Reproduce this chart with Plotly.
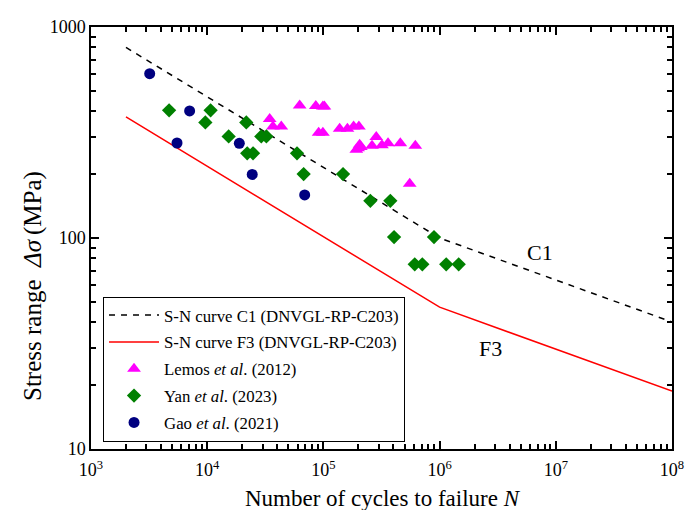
import plotly.graph_objects as go
import numpy as np

# S-N design curves: N and stress range
curve_N = [2000, 1e6, 1e8]
c1_S = [800, 100, 40]
f3_S = [375, 47, 18.8]

# Lemos et al. (2012)
lemos_N = [34500, 36800, 43400, 62500, 86000, 99000, 102000, 91000, 99000,
           138000, 161000, 182000, 202000, 205000, 199000, 192000, 210000,
           285000, 262000, 319000, 360000, 459000, 618000, 553000]
lemos_S = [366, 338, 338, 425, 422, 420, 420, 315, 315,
           329, 329, 338, 338, 277, 266, 262, 270,
           301, 274, 275, 281, 281, 274, 181]

# Yan et al. (2023)
yan_N = [4700, 10700, 9640, 21700, 15300, 29200, 32300, 22100, 24800, 59300,
         67600, 147600, 253600, 376700, 405700, 895000, 611000, 710000, 1140000, 1460000]
yan_S = [403, 403, 353, 353, 303, 303, 303, 252, 252, 252,
         201, 201, 150, 150, 101, 101, 75, 75, 75, 75]

# Gao et al. (2021)
gao_N = [3200, 7060, 5500, 18900, 24400, 69000]
gao_S = [601, 400, 282, 281, 200, 160]

x_tickvals = [1e3, 1e4, 1e5, 1e6, 1e7, 1e8]
x_ticktext = ["10<sup>3</sup>", "10<sup>4</sup>", "10<sup>5</sup>", "10<sup>6</sup>",
              "10<sup>7</sup>", "10<sup>8</sup>"]
y_tickvals = [10, 100, 1000]
y_ticktext = ["10", "100", "1000"]
x_minor = [m * 10 ** e for e in range(3, 8) for m in range(2, 10)]
y_minor = [m * 10 ** e for e in range(1, 3) for m in range(2, 10)]

FONT = "Liberation Serif, Times New Roman, serif"

fig = go.Figure()
fig.add_trace(go.Scatter(x=curve_N, y=c1_S, mode="lines", legendgroup="a",
                         line=dict(color="black", width=1.5, dash="6px,6px"),
                         name="S-N curve C1 (DNVGL-RP-C203)"))
fig.add_trace(go.Scatter(x=curve_N, y=f3_S, mode="lines", legendgroup="b",
                         line=dict(color="#FF0000", width=1.5),
                         name="S-N curve F3 (DNVGL-RP-C203)"))
fig.add_trace(go.Scatter(x=lemos_N, y=lemos_S, mode="markers", legendgroup="c",
                         marker=dict(symbol="triangle-up", size=12, color="#FF00FF"),
                         name="Lemos <i>et al</i>. (2012)"))
fig.add_trace(go.Scatter(x=yan_N, y=yan_S, mode="markers", legendgroup="d",
                         marker=dict(symbol="diamond", size=11, color="#008000"),
                         name="Yan <i>et al</i>. (2023)"))
fig.add_trace(go.Scatter(x=gao_N, y=gao_S, mode="markers", legendgroup="e",
                         marker=dict(symbol="circle", size=11, color="#000080"),
                         name="Gao <i>et al</i>. (2021)"))
# invisible trace so the overlay axes (which carry the minor ticks) are drawn
fig.add_trace(go.Scatter(x=gao_N, y=gao_S, mode="markers", xaxis="x2", yaxis="y2",
                         marker=dict(opacity=0), showlegend=False, hoverinfo="skip"))

axis_common = dict(type="log", showgrid=False, zeroline=False,
                   showline=True, linecolor="black", linewidth=1.5,
                   mirror="allticks", ticks="inside", tickcolor="black")

fig.update_layout(
    xaxis=dict(range=[3, 8], tickmode="array", tickvals=x_tickvals, ticktext=x_ticktext,
               ticklen=8, tickwidth=2, ticklabelstandoff=4,
               tickfont=dict(family=FONT, size=18, color="black"), **axis_common),
    yaxis=dict(range=[1, 3], tickmode="array", tickvals=y_tickvals, ticktext=y_ticktext,
               ticklen=8, tickwidth=2,
               tickfont=dict(family=FONT, size=18, color="black"), **axis_common),
    xaxis2=dict(range=[3, 8], overlaying="x", anchor="y", side="bottom",
                tickmode="array", tickvals=x_minor, showticklabels=False,
                ticklen=5, tickwidth=1.6, **axis_common),
    yaxis2=dict(range=[1, 3], overlaying="y", anchor="x", side="left",
                tickmode="array", tickvals=y_minor, showticklabels=False,
                ticklen=5, tickwidth=1.6, **axis_common),
)

fig.update_layout(
    width=696, height=510,
    margin=dict(l=83, r=32, t=9, b=69),
    paper_bgcolor="white", plot_bgcolor="white",
    font=dict(family=FONT, color="black"),
    showlegend=True,
    legend=dict(x=0.0207, y=0.361, xanchor="left", yanchor="top",
                bordercolor="black", borderwidth=1, bgcolor="white",
                font=dict(family=FONT, size=16.8, color="black"),
                itemwidth=50, tracegroupgap=2),
    annotations=[
        dict(x=np.log10(7.3e6), y=np.log10(85), xref="x", yref="y", text="C1",
             showarrow=False, font=dict(family=FONT, size=22, color="black")),
        dict(x=np.log10(2.72e6), y=np.log10(30), xref="x", yref="y", text="F3",
             showarrow=False, font=dict(family=FONT, size=22, color="black")),
        dict(x=0.5026, y=-0.117, xref="paper", yref="paper",
             text="Number of cycles to failure <i>N</i>",
             showarrow=False, yanchor="middle", font=dict(family=FONT, size=23, color="black")),
        dict(x=-0.1, y=0.386, xref="paper", yref="paper",
             text="Stress range\u2002<i>Δσ</i>\u2009(MPa)",
             showarrow=False, textangle=-90, xanchor="center", yanchor="middle",
             font=dict(family=FONT, size=25, color="black")),
    ],
)

fig.write_html("out.html")
